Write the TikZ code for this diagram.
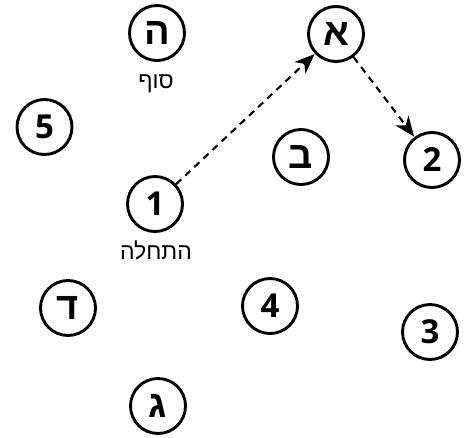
\documentclass[tikz,border=0pt]{standalone}
\usepackage{fontspec}
\setmainfont{Open Sans}
\newfontfamily\hebfont[Script=Hebrew]{Liberation Sans}
\TeXXeTstate=1
\usetikzlibrary{arrows.meta}
\tikzset{
  spot/.style={circle, draw=black, line width=2.9pt, minimum size=55pt, inner sep=0pt, font=\fontsize{33}{33}\selectfont\bfseries},
  hspot/.style={spot, font=\hebfont\fontsize{38}{38}\selectfont\bfseries},
  lbl/.style={font=\hebfont\fontsize{23}{23}\selectfont, inner sep=0pt},
  link/.style={line width=2.1pt, dash pattern=on 7pt off 5.5pt, -{Stealth[length=20pt,width=16pt,inset=6pt]}, shorten >=0.5pt}
}
\begin{document}
\begin{tikzpicture}[x=1pt,y=-1pt]
\useasboundingbox (0,0) rectangle (474,437);
\node[hspot] (he) at (157,33) {ה};
\node[hspot] (alef) at (336,34) {א};
\node[spot] (five) at (44.5,127) {5};
\node[hspot] (bet) at (301,157) {ב};
\node[spot] (two) at (432,160) {2};
\node[spot] (one) at (155,204) {1};
\node[hspot] (dalet) at (68,308) {ד};
\node[spot] (four) at (270,306) {4};
\node[spot] (three) at (430,332) {3};
\node[hspot] (gimel) at (158,406) {ג};
\node[lbl] (sof) at (156,84) {\beginR סוף\endR};
\node[lbl] (start) at (156,250) {\beginR התחלה\endR};
\draw[link] (one) -- (alef);
\draw[link] (alef) -- (two);
\end{tikzpicture}
\end{document}
